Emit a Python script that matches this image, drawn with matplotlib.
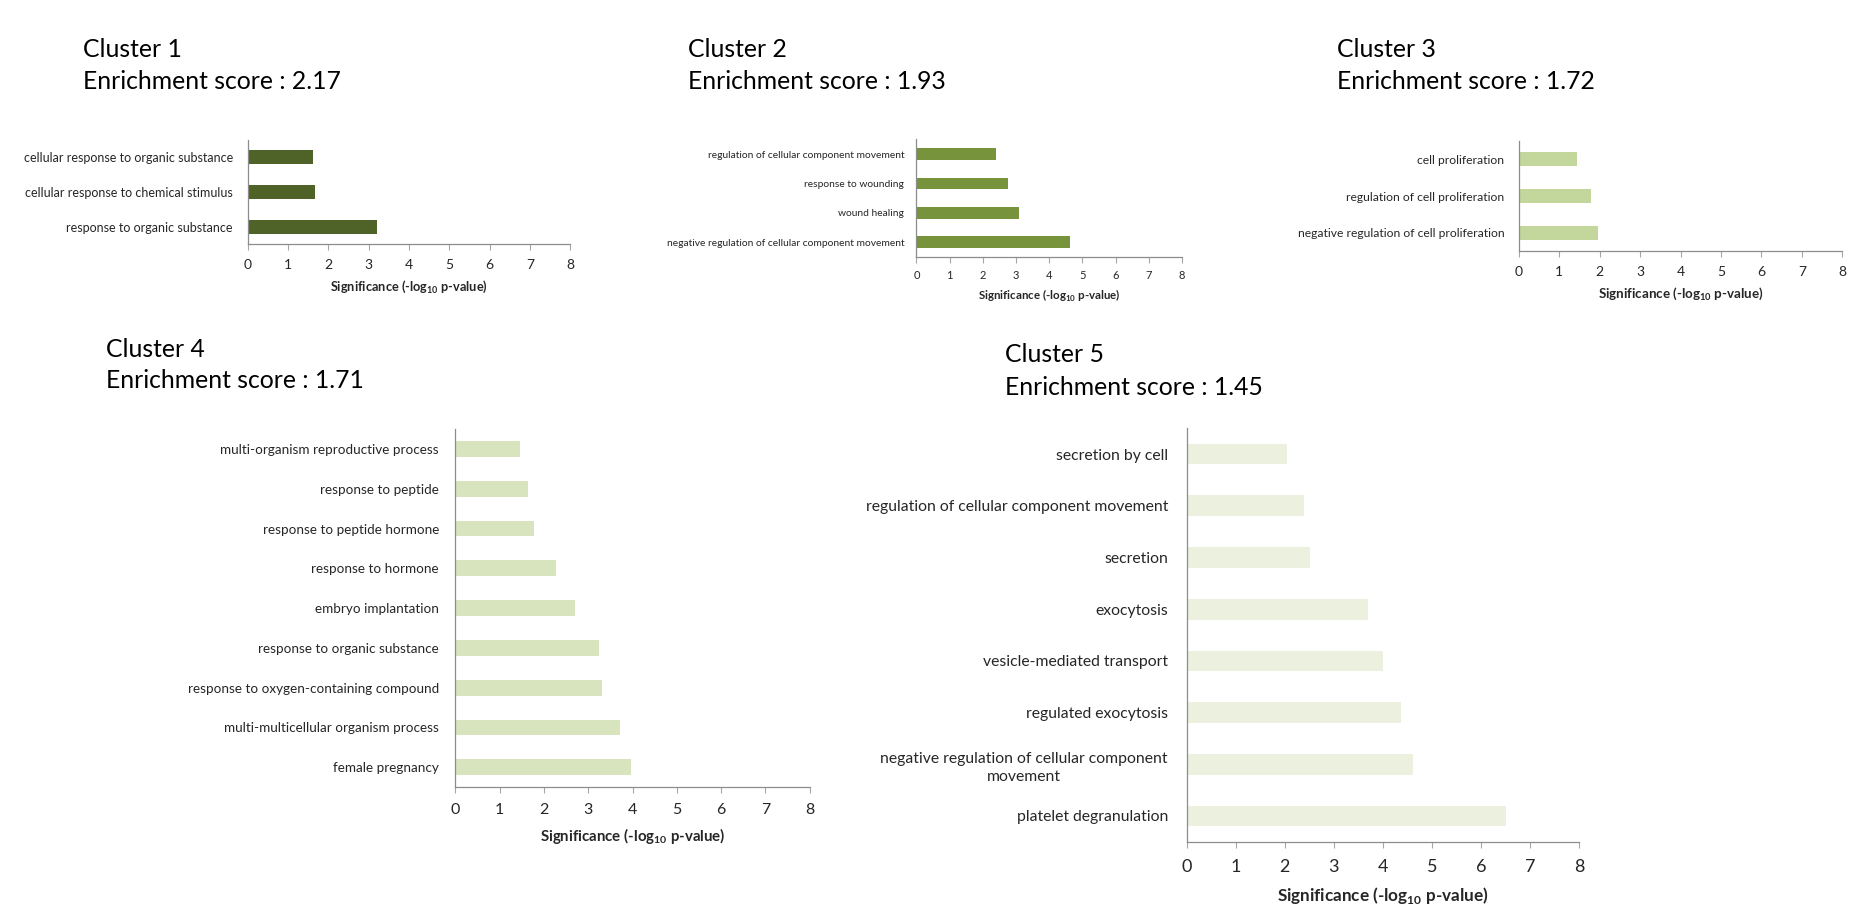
import numpy as np
import matplotlib
matplotlib.use('Agg')
import matplotlib.pyplot as plt

plt.rcParams['font.family'] = ['Lato', 'DejaVu Sans']
plt.rcParams['mathtext.fontset'] = 'custom'
plt.rcParams['mathtext.rm'] = 'Lato'
plt.rcParams['mathtext.bf'] = 'Lato:bold'

# data, top to bottom as in the chart
c1_terms = ['cellular response to organic substance',
            'cellular response to chemical stimulus',
            'response to organic substance']
c1_vals = [1.61, 1.66, 3.21]

c2_terms = ['regulation of cellular component movement',
            'response to wounding',
            'wound healing',
            'negative regulation of cellular component movement']
c2_vals = [2.39, 2.77, 3.10, 4.64]

c3_terms = ['cell proliferation',
            'regulation of cell proliferation',
            'negative regulation of cell proliferation']
c3_vals = [1.44, 1.79, 1.96]

c4_terms = ['multi-organism reproductive process',
            'response to peptide',
            'response to peptide hormone',
            'response to hormone',
            'embryo implantation',
            'response to organic substance',
            'response to oxygen-containing compound',
            'multi-multicellular organism process',
            'female pregnancy']
c4_vals = [1.45, 1.65, 1.77, 2.27, 2.70, 3.24, 3.31, 3.72, 3.96]

c5_terms = ['secretion by cell',
            'regulation of cellular component movement',
            'secretion',
            'exocytosis',
            'vesicle-mediated transport',
            'regulated exocytosis',
            'negative regulation of cellular component\nmovement',
            'platelet degranulation']
c5_vals = [2.04, 2.39, 2.52, 3.70, 4.01, 4.37, 4.61, 6.50]

scores = ['2.17', '1.93', '1.72', '1.71', '1.45']
xticks = list(range(0, 9))

W, H = 1568.0, 768.0  # layout was measured on this scale

fig = plt.figure(figsize=(18.59, 9.11), dpi=100)


def panel(box, terms, vals, color, lab_fs, tick_fs, xl_fs):
    x0, x8, ytop, ybot = box
    ax = fig.add_axes([x0 / W, 1 - ybot / H, (x8 - x0) / W, (ybot - ytop) / H])
    pos = np.arange(len(terms))
    ax.barh(pos, vals, height=0.4, color=color)
    ax.set_ylim(len(terms) - 0.5, -0.5)
    ax.set_xlim(0, 8)
    ax.set_xticks(xticks)
    ax.set_yticks(pos)
    ax.set_yticklabels(terms, fontsize=lab_fs, color='#262626',
                       multialignment='center', linespacing=1.4)
    ax.tick_params(axis='y', length=0, pad=lab_fs * 1.2)
    ax.tick_params(axis='x', labelsize=tick_fs, colors='#262626', length=4,
                   width=0.8, direction='out', pad=lab_fs * 0.75)
    ax.tick_params(axis='x', color='#a6a6a6')
    for s in ['top', 'right']:
        ax.spines[s].set_visible(False)
    for s in ['left', 'bottom']:
        ax.spines[s].set_color('#8c8c8c')
        ax.spines[s].set_linewidth(0.9)
    ax.set_xlabel(r'Significance (-log$_{\mathbf{10}}$ p-value)', fontsize=xl_fs,
                  fontweight='bold', color='#262626', labelpad=xl_fs * 0.6)
    return ax


panel((209, 481, 118, 206), c1_terms, c1_vals, '#4F6228', 9.0, 10, 9.2)
panel((773, 997, 117.5, 216.5), c2_terms, c2_vals, '#77933C', 7.4, 8, 8.3)
panel((1281, 1554, 118.5, 212), c3_terms, c3_vals, '#C3D69B', 8.75, 10, 9.6)
panel((384, 683, 361.7, 663.6), c4_terms, c4_vals, '#D7E4BD', 9.7, 11.5, 10.8)
panel((1001, 1332, 361, 709.7), c5_terms, c5_vals, '#EBF1DE', 11.3, 13, 12.3)

title_pos = [(70, 42, 69), (580, 42, 69), (1128, 42, 69), (89, 295, 321), (848, 299, 327)]
for i, (tx, y1, y2) in enumerate(title_pos):
    fig.text(tx / W, 1 - y1 / H, 'Cluster %d' % (i + 1), fontsize=17.8, va='center', ha='left')
    fig.text(tx / W, 1 - y2 / H, 'Enrichment score : ' + scores[i], fontsize=17.8,
             va='center', ha='left')

fig.savefig('out.png', dpi=100)
